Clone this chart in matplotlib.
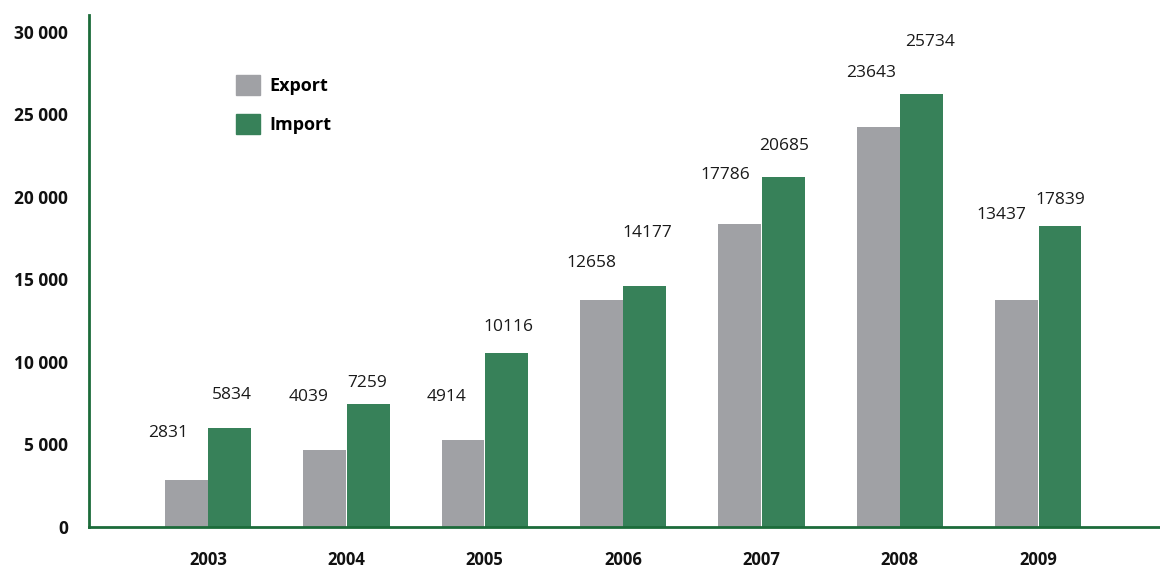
import matplotlib
matplotlib.use("Agg")
import matplotlib.pyplot as plt
import numpy as np
from matplotlib.patches import Patch
from matplotlib.ticker import FuncFormatter

years = ["2003", "2004", "2005", "2006", "2007", "2008", "2009"]
# bar heights as drawn in the picture
export_bars = [2850, 4670, 5270, 13760, 18360, 24240, 13760]
import_bars = [6000, 7450, 10550, 14600, 21200, 26240, 18240]
# values printed above the bars
export_labels = [2831, 4039, 4914, 12658, 17786, 23643, 13437]
import_labels = [5834, 7259, 10116, 14177, 20685, 25734, 17839]

# label offsets in pixels (dx, dy) from the bar top centre
export_off = [(-18, 47), (-16, 53), (-16, 43), (-10, 37), (-14, 49), (-7, 54), (-15, 85)]
import_off = [(2, 33), (-1, 21), (2, 26), (2, 53), (1, 31), (8, 52), (0, 26)]

gray = "#a0a1a5"
green = "#378159"
spine_green = "#1c6b3a"

plt.rcParams['font.family'] = ['Open Sans', 'DejaVu Sans']

fig = plt.figure(figsize=(11.6, 5.69), dpi=100)
ax = fig.add_axes([89/1160, 42/569, 1 - 89/1160, 512/569])

x = np.arange(len(years))
w = 0.31
b1 = ax.bar(x - w/2 - 0.002, export_bars, w, color=gray, edgecolor="none")
b2 = ax.bar(x + w/2 + 0.002, import_bars, w, color=green, edgecolor="none")

for bars, labs, offs in ((b1, export_labels, export_off), (b2, import_labels, import_off)):
    for r, lab, (dx, dy) in zip(bars, labs, offs):
        ax.annotate(str(lab), (r.get_x() + r.get_width()/2, r.get_height()),
                    xytext=(dx, dy), textcoords="offset pixels",
                    ha="center", va="center", fontsize=12.5, color="#1a1a1a")

ax.set_ylim(0, 31000)
ax.set_xlim(-0.86, 6.88)
ax.set_yticks([0, 5000, 10000, 15000, 20000, 25000, 30000])
ax.yaxis.set_major_formatter(FuncFormatter(lambda v, p: f"{int(v):,}".replace(",", " ")))
ax.set_xticks(x)
ax.set_xticklabels(years)
ax.tick_params(axis="y", length=0, pad=15, labelsize=12.5)
ax.tick_params(axis="x", length=0, pad=17, labelsize=12)
for lab in ax.get_xticklabels() + ax.get_yticklabels():
    lab.set_fontweight("bold")
    lab.set_color("#111111")

for s in ("top", "right"):
    ax.spines[s].set_visible(False)
for s in ("left", "bottom"):
    ax.spines[s].set_color(spine_green)
    ax.spines[s].set_linewidth(2)

handles = [Patch(color=gray, label="Export"), Patch(color=green, label="Import")]
leg = ax.legend(handles=handles, loc="upper left", bbox_to_anchor=(222/1160, 1 - 61/569),
                bbox_transform=fig.transFigure, frameon=False,
                prop={"weight": "bold", "size": 13},
                handlelength=1.3, handleheight=1.3, labelspacing=1.05,
                handletextpad=0.55, borderpad=0.3)

fig.savefig("out.png", dpi=100)
